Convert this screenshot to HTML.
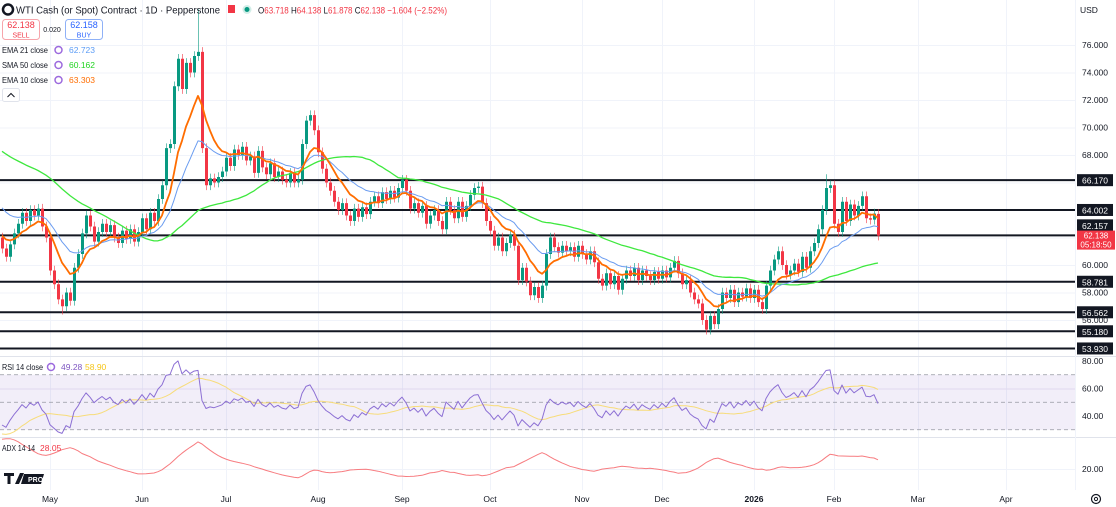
<!DOCTYPE html>
<html><head><meta charset="utf-8"><style>
html,body{margin:0;padding:0;background:#fff;overflow:hidden}
svg{display:block;font-family:"Liberation Sans",sans-serif}
</style></head><body>
<svg id="chart" width="1116" height="507" viewBox="0 0 1116 507">
<defs>
<clipPath id="cpMain"><rect x="0" y="0" width="1075" height="356"/></clipPath>
<clipPath id="cpRsi"><rect x="0" y="357" width="1075" height="80"/></clipPath>
<clipPath id="cpAdx"><rect x="0" y="438" width="1075" height="52"/></clipPath>
</defs>
<g id="grid"></g>
<g id="rsiBg"></g>
<g id="levels"></g>
<g id="candles" clip-path="url(#cpMain)"></g>
<g id="lines"></g>
<g id="axis"></g>
<g id="xaxis"></g>
<line x1="0" y1="356.5" x2="1116" y2="356.5" stroke="#e0e3eb"/>
<line x1="0" y1="437.5" x2="1116" y2="437.5" stroke="#e0e3eb"/>
<line x1="1075.5" y1="0" x2="1075.5" y2="490" stroke="#f0f3fa"/>
<g>
<circle cx="8" cy="9.5" r="5" fill="none" stroke="#131722" stroke-width="2.5"/>
<text x="16" y="13.5" fill="#131722" font-size="10.5" textLength="204" lengthAdjust="spacingAndGlyphs">WTI Cash (or Spot) Contract · 1D · Pepperstone</text>
<rect x="228" y="5" width="7" height="8" fill="#f23645"/>
<circle cx="247" cy="9.5" r="4.5" fill="#d1ede7"/><circle cx="247" cy="9.5" r="2.5" fill="#089981"/>
<text x="258" y="13.5" font-size="9.5" fill="#f23645" textLength="189" lengthAdjust="spacingAndGlyphs"><tspan fill="#131722">O</tspan>63.718 <tspan fill="#131722">H</tspan>64.138 <tspan fill="#131722">L</tspan>61.878 <tspan fill="#131722">C</tspan>62.138 −1.604 (−2.52%)</text>
<g><rect x="2.5" y="19.5" width="37" height="20" rx="3" fill="#fff" stroke="#f7a5ab"/><text x="21" y="28" text-anchor="middle" font-size="9" fill="#f23645">62.138</text><text x="21" y="37.5" text-anchor="middle" font-size="7" fill="#f23645">SELL</text></g>
<text x="52" y="32" text-anchor="middle" font-size="7" fill="#131722">0.020</text>
<g><rect x="65.5" y="19.5" width="37" height="20" rx="3" fill="#fff" stroke="#8fb1f7"/><text x="84" y="28" text-anchor="middle" font-size="9" fill="#2962ff">62.158</text><text x="84" y="37.5" text-anchor="middle" font-size="7" fill="#2962ff">BUY</text></g>
<text x="2" y="53" font-size="8.5" fill="#131722" textLength="46" lengthAdjust="spacingAndGlyphs">EMA 21 close</text>
<circle cx="58.5" cy="50" r="3.5" fill="none" stroke="#9c6ade" stroke-width="1.5"/>
<text x="69" y="53" font-size="8.5" fill="#5b9cf6">62.723</text>
<text x="2" y="68" font-size="8.5" fill="#131722" textLength="46" lengthAdjust="spacingAndGlyphs">SMA 50 close</text>
<circle cx="58.5" cy="65" r="3.5" fill="none" stroke="#9c6ade" stroke-width="1.5"/>
<text x="69" y="68" font-size="8.5" fill="#22d422">60.162</text>
<text x="2" y="83" font-size="8.5" fill="#131722" textLength="46" lengthAdjust="spacingAndGlyphs">EMA 10 close</text>
<circle cx="58.5" cy="80" r="3.5" fill="none" stroke="#9c6ade" stroke-width="1.5"/>
<text x="69" y="83" font-size="8.5" fill="#ff6d00">63.303</text>
<g><rect x="2.5" y="88.5" width="17" height="13" rx="2" fill="#fff" stroke="#e0e3eb"/><path d="M7.5 97 L11 93.5 L14.5 97" fill="none" stroke="#131722" stroke-width="1"/></g>
<text x="2" y="370" font-size="8.5" fill="#131722" textLength="41" lengthAdjust="spacingAndGlyphs">RSI 14 close</text>
<circle cx="51" cy="367" r="3.5" fill="none" stroke="#9c6ade" stroke-width="1.5"/>
<text x="61" y="370" font-size="8.5" fill="#7e57c2">49.28</text><text x="85" y="370" font-size="8.5" fill="#f5c518">58.90</text>
<text x="2" y="451" font-size="8.5" fill="#131722" textLength="33" lengthAdjust="spacingAndGlyphs">ADX 14 14</text>
<text x="40" y="451" font-size="8.5" fill="#f23645">28.05</text>
<g><path d="M4 473h10v3h-3.5v8h-3v-8H4z M15 484 l5-11h4l-5 11z" fill="#131722"/><path d="M24 474h20l-3 10h-20z" fill="#131722"/><text x="28" y="482" font-size="7" font-weight="bold" fill="#fff">PRO</text></g>
</g>
<text x="1080" y="13" font-size="8.5" fill="#131722">USD</text>
<g><circle cx="1096" cy="499" r="4.5" fill="none" stroke="#131722" stroke-width="1.2"/><circle cx="1096" cy="499" r="1.6" fill="none" stroke="#131722"/></g>
</svg>
<script>
// ---- data ----
const preCloses = [70.4,70.8,71.0,70.2,70.6,71.2,70.9,70.3,70.0,70.7,71.3,70.8,70.2,70.5,71.0,70.6,70.1,69.8,70.4,71.1,71.4,70.9,70.3,70.6,70.2,69.9,70.5,71.0,70.7,70.3,70.8,71.2,70.6,70.1,69.7,
70.0,69.2,68.4,66.8,64.5,62.0,60.8,61.5,60.2,61.8,62.4,61.0,60.5,61.4,62.0];
const closes = [61.2,60.6,61.5,62.3,63.0,63.8,63.2,64.0,63.6,64.1,
62.8,62.0,59.6,58.6,57.5,57.0,58.0,57.4,59.8,60.8,
62.3,63.6,62.8,61.7,62.4,63.0,62.4,62.9,62.0,61.6,
62.5,61.9,62.6,61.7,62.4,63.4,62.6,63.8,63.2,64.8,
65.8,68.5,68.8,73.0,75.0,72.8,74.7,74.0,75.2,75.5,
68.5,65.8,66.3,66.0,66.4,66.8,67.8,67.2,68.4,68.0,
68.6,67.6,67.9,66.7,68.3,67.1,66.6,67.4,66.4,66.8,
66.2,66.0,66.7,66.0,66.2,68.8,70.5,70.9,69.8,68.2,
67.0,66.0,65.4,64.6,64.0,64.5,63.6,63.2,64.1,63.5,
64.2,63.7,64.6,65.0,64.5,65.3,64.8,65.4,64.9,65.6,
66.2,65.4,64.1,64.5,63.8,64.3,63.0,63.6,64.0,63.2,
62.6,64.6,64.0,63.4,64.6,63.5,64.3,65.1,65.6,65.7,
64.5,63.2,62.5,61.4,62.0,61.0,61.6,62.2,61.4,58.9,
59.8,58.8,57.8,58.4,57.6,58.5,60.8,62.0,61.3,60.9,
61.4,61.0,61.3,60.6,61.4,60.8,60.4,61.0,60.2,59.0,
58.5,59.4,58.6,59.2,58.2,59.0,59.6,59.2,59.8,58.9,
59.6,59.2,58.9,59.5,59.0,59.6,59.1,59.8,60.3,59.4,
58.6,58.9,58.0,57.5,57.2,56.0,55.3,56.3,55.7,56.8,
58.0,57.6,58.2,57.3,58.0,57.7,58.3,57.6,58.2,57.3,
56.8,58.5,59.6,60.4,61.0,60.0,59.3,59.6,60.1,59.5,
60.6,59.8,61.0,61.6,62.6,64.0,65.6,65.8,63.0,62.4,
64.6,63.2,64.4,63.6,64.3,65.0,63.4,63.3,63.742,62.138];
const lastOpen = 63.718;
const levelValues = [66.170,64.002,62.157,58.781,56.562,55.180,53.930];
const priceTicks = [76,74,72,70,68,60,58,56];
const rsiTicks = [80,60,40];
const adxTicks = [20];
const monthLabels = ["May","Jun","Jul","Aug","Sep","Oct","Nov","Dec","2026","Feb","Mar","Apr"];
const monthBars = [12,35,56,79,100,122,145,165,188,208,229,251];

// ---- scales ----
const xB = i => 2 + 4*i;
const yP = p => 45 + (76-p)*13.75;
const yR = v => 361 + (80-v)*1.375;
const yA = v => 469 - (v-20)*1.05;
const NS='http://www.w3.org/2000/svg';
function mk(tag, attrs, parent){const e=document.createElementNS(NS,tag);for(const k in attrs)e.setAttribute(k,attrs[k]);parent.appendChild(e);return e;}
const G=id=>document.getElementById(id);

const all = preCloses.concat(closes);
const P = preCloses.length;
const opens = all.map((c,i)=> i===0?c:all[i-1]);
opens[all.length-1] = lastOpen;
const highs = all.map((c,i)=>Math.max(c,opens[i])+0.35);
const lows = all.map((c,i)=>Math.min(c,opens[i])-0.35);
highs[P+49]=78.6; lows[P+15]=56.4; highs[P+206]=66.6;

function ema(arr,n){const k=2/(n+1);const out=[];let v=arr[0];arr.forEach((c,i)=>{v=i===0?c:c*k+v*(1-k);out.push(v);});return out;}
function sma(arr,n){return arr.map((c,i)=>{const s=Math.max(0,i-n+1);let t=0;for(let j=s;j<=i;j++)t+=arr[j];return t/(i-s+1);});}
const e10=ema(all,10), e21=ema(all,21), s50=sma(all,50);
const rsi=[];{let ag=0,al=0;for(let i=1;i<all.length;i++){const d=all[i]-all[i-1];const g=Math.max(d,0),l=Math.max(-d,0);if(i<=14){ag+=g/14;al+=l/14;}else{ag=(ag*13+g)/14;al=(al*13+l)/14;}rsi[i]=al===0?100:100-100/(1+ag/al);}rsi[0]=50;}
const rsiMa=sma(rsi,14);
const adx=[];{let tr=0,pdm=0,ndm=0,ad=0;for(let i=1;i<all.length;i++){const t=Math.max(highs[i]-lows[i],Math.abs(highs[i]-all[i-1]),Math.abs(lows[i]-all[i-1]));const up=highs[i]-highs[i-1],dn=lows[i-1]-lows[i];const p=(up>dn&&up>0)?up:0,n=(dn>up&&dn>0)?dn:0;tr=tr-tr/14+t;pdm=pdm-pdm/14+p;ndm=ndm-ndm/14+n;const pdi=100*pdm/tr,ndi=100*ndm/tr;const dx=100*Math.abs(pdi-ndi)/((pdi+ndi)||1);ad=i===1?dx:(ad*13+dx)/14;adx[i]=ad;}adx[0]=adx[1];}

// ---- grid ----
const grid=G('grid');
monthBars.forEach(b=>{const l=mk('line',{x1:xB(b)+.5,x2:xB(b)+.5,y1:0,y2:490,stroke:'#f0f3fa'},grid);

});
[76,74,72,70,68,66,64,62,60,58,56,54].forEach(v=>{const l=mk('line',{x1:0,x2:1075,y1:yP(v)+.5,y2:yP(v)+.5,stroke:'#f0f3fa'},grid);

});
mk('line',{x1:0,x2:1075,y1:469.5,y2:469.5,stroke:'#f0f3fa'},grid);
mk('line',{x1:0,x2:1075,y1:yR(60)+.5,y2:yR(60)+.5,stroke:'#ebe7f5'},grid);

// ---- RSI band ----
const rb=G('rsiBg');
const band=mk('rect',{x:0,y:yR(70),width:1075,height:yR(30)-yR(70),fill:'#7e57c2','fill-opacity':0.1},rb);


[70,50,30].forEach(v=>{const l=mk('line',{x1:0,x2:1075,y1:yR(v),y2:yR(v),stroke:'#9598a1','stroke-dasharray':'4 3','stroke-width':0.8},rb);

});

// ---- levels ----
const lv=G('levels');
levelValues.forEach(v=>{const l=mk('line',{x1:0,x2:1075,y1:yP(v),y2:yP(v),stroke:'#131722','stroke-width':2},lv);

});

// ---- candles ----
const cg=G('candles');
for(let j=0;j<closes.length;j++){const i=P+j;const o=opens[i],c=closes[j];const up=c>=o;const col=up?'#089981':'#f23645';const x=xB(j);
const g=mk('g',{},cg);


mk('line',{x1:x+.5,x2:x+.5,y1:yP(highs[i]),y2:yP(lows[i]),stroke:col,'stroke-opacity':0.6},g);
const t=Math.min(yP(o),yP(c)),h=Math.max(1,Math.abs(yP(o)-yP(c)));
mk('rect',{x:x-1,y:t,width:3,height:h,fill:col},g);}

// ---- lines ----
const lg=G('lines');
function path(series,yf,col,w,name,clip){let d='';for(let j=0;j<closes.length;j++){const v=series[P+j];if(v==null)continue;d+=(d?'L':'M')+xB(j).toFixed(1)+' '+yf(v).toFixed(1);}
const p=mk('path',{d:d,fill:'none',stroke:col,'stroke-width':w,'stroke-linejoin':'round','clip-path':'url(#'+clip+')'},lg);

}
path(s50,yP,'#3ee83e',1.3,'sma50-line','cpMain');
path(e21,yP,'#6a9cf0',1,'ema21-line','cpMain');
path(e10,yP,'#ff6d00',1.8,'ema10-line','cpMain');
path(rsiMa,yR,'#f7dc7a',1,'rsi-ma-line','cpRsi');
path(rsi,yR,'#8c6fd4',1,'rsi-line','cpRsi');
path(adx,yA,'#f77c80',1,'adx-line','cpAdx');

// ---- price axis ----
const ax=G('axis');
priceTicks.forEach(v=>{const t=mk('text',{x:1082,y:yP(v)+3,'font-size':8.5,fill:'#131722'},ax);t.textContent=v.toFixed(3);

});
rsiTicks.forEach(v=>{const t=mk('text',{x:1082,y:yR(v)+3,'font-size':8.5,fill:'#131722'},ax);t.textContent=v.toFixed(2);

});
adxTicks.forEach(v=>{const t=mk('text',{x:1082,y:469+3,'font-size':8.5,fill:'#131722'},ax);t.textContent=v.toFixed(2);

});
levelValues.forEach(v=>{let y=yP(v);if(Math.abs(v-62.157)<0.001)y-=10;const g=mk('g',{},ax);


mk('rect',{x:1077,y:y-6,width:36,height:12,fill:'#131722'},g);
const t=mk('text',{x:1095,y:y+3.5,'font-size':8.5,fill:'#fff','text-anchor':'middle'},g);t.textContent=v.toFixed(3);});
{const last=closes[closes.length-1];const y=yP(last)-5;const g=mk('g',{},ax);


mk('rect',{x:1077,y:y,width:38,height:19,fill:'#f23645'},g);
const t=mk('text',{x:1096,y:y+8,'font-size':8,fill:'#fff','text-anchor':'middle'},g);t.textContent=last.toFixed(3);
const t2=mk('text',{x:1096,y:y+17,'font-size':8,fill:'#fff','text-anchor':'middle'},g);t2.textContent='05:18:50';}

// ---- time axis ----
const xa=G('xaxis');
monthLabels.forEach((m,k)=>{const t=mk('text',{x:xB(monthBars[k]),y:502,'font-size':8.5,fill:'#131722','text-anchor':'middle','font-weight':m==='2026'?'bold':'normal'},xa);t.textContent=m;

});
</script>
</body></html>
